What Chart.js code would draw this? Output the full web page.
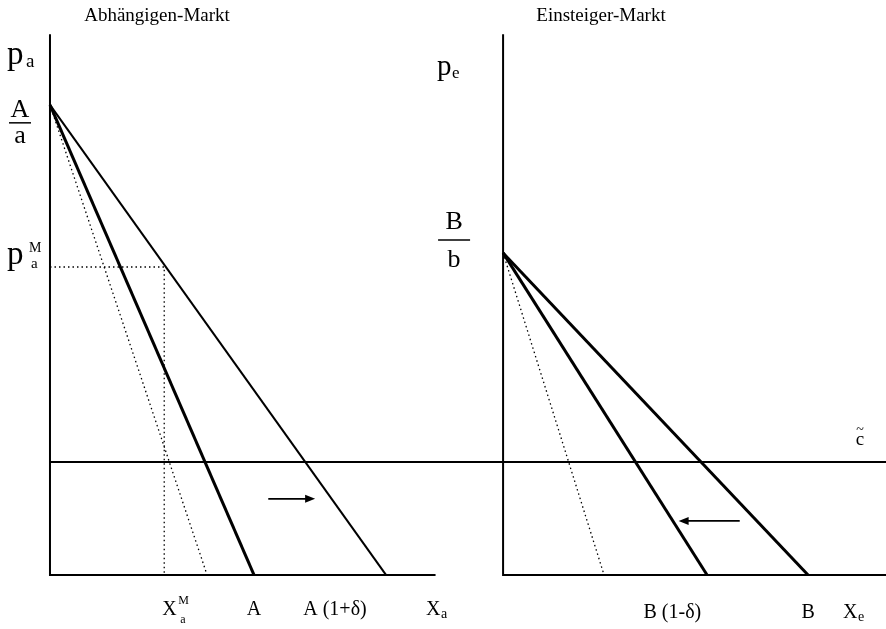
<!DOCTYPE html>
<html lang="de">
<head>
<meta charset="utf-8">
<title>Abhängigen-Markt / Einsteiger-Markt</title>
<script src="https://cdn.jsdelivr.net/npm/chart.js@4.4.1/dist/chart.umd.min.js"></script>
<style>
  html, body { margin: 0; padding: 0; background: #fff; }
</style>
</head>
<body>
<canvas id="diagramm" width="886" height="629"></canvas>
<script>
// Abhängigen-Markt (Mengen in Einheiten von A, Preise in Einheiten von A/a)
const prohibitivA = 1.0;               // A/a auf der Preisachse
const mengenA = [1.0, 1.647, 0.77];    // A, A (1+δ), Grenzerlös
const monopolA = [0.56, 0.655];        // X_a^M, p_a^M

// Einsteiger-Markt
const prohibitivB = 0.685;             // B/b
const mengenB = [1.0, 1.495, 0.495];   // B (1-δ), B, Grenzerlös

// Grenzkosten c~ (für beide Märkte)
const kostenC = 0.24;

// Verschiebungspfeile: von, bis, Höhe
const pfeilA = [1.07, 1.28, 0.162];
const pfeilB = [1.16, 0.88, 0.115];

// Achsenlängen
const achseXA = 1.89;
const achseXB = 1.88;
const achseY = 1.15;

// Versatz des rechten Diagramms auf der gemeinsamen Mengenachse
const versatzB = 2.221;

const schrift = '"Liberation Serif", "DejaVu Serif", serif';

function linie(punkte, breite, punktiert) {
    return {
        data: punkte.map(p => ({ x: p[0], y: p[1] })),
        showLine: true,
        borderColor: '#000',
        borderWidth: breite,
        borderDash: punktiert ? [1.5, 3] : [],
        pointRadius: 0,
        fill: false,
        tension: 0
    };
}

const datensaetze = [
    // Achsen links
    linie([[0, achseY], [0, 0], [achseXA, 0]], 2, false),
    // Achsen rechts
    linie([[versatzB, achseY], [versatzB, 0], [versatzB + achseXB, 0]], 2, false),
    // Nachfrage A und A (1+δ)
    linie([[0, prohibitivA], [mengenA[0], 0]], 3, false),
    linie([[0, prohibitivA], [mengenA[1], 0]], 2, false),
    linie([[0, prohibitivA], [mengenA[2], 0]], 1.3, true),
    // Monopolpunkt
    linie([[0, monopolA[1]], [monopolA[0], monopolA[1]], [monopolA[0], 0]], 1.3, true),
    // Nachfrage B (1-δ) und B
    linie([[versatzB, prohibitivB], [versatzB + mengenB[0], 0]], 3, false),
    linie([[versatzB, prohibitivB], [versatzB + mengenB[1], 0]], 3, false),
    linie([[versatzB, prohibitivB], [versatzB + mengenB[2], 0]], 1.3, true),
    // Kostenlinie
    linie([[0, kostenC], [4.2, kostenC]], 2, false),
    // Pfeile
    linie([[pfeilA[0], pfeilA[2]], [pfeilA[1], pfeilA[2]]], 1.8, false),
    linie([[versatzB + pfeilB[0], pfeilB[2]], [versatzB + pfeilB[1], pfeilB[2]]], 1.8, false)
];

const beschriftung = {
    id: 'beschriftung',
    afterDatasetsDraw(chart) {
        const ctx = chart.ctx;
        const sx = v => chart.scales.x.getPixelForValue(v);
        const sy = v => chart.scales.y.getPixelForValue(v);

        function txt(s, x, y, groesse, ausr) {
            ctx.font = groesse + 'px ' + schrift;
            ctx.textAlign = ausr || 'left';
            ctx.textBaseline = 'alphabetic';
            ctx.fillText(s, x, y);
        }
        function strich(x1, x2, y) {
            ctx.beginPath();
            ctx.lineWidth = 1.5;
            ctx.moveTo(x1, y);
            ctx.lineTo(x2, y);
            ctx.stroke();
        }
        function spitze(x, y, richtung) {
            ctx.beginPath();
            ctx.moveTo(x + richtung * 4, y);
            ctx.lineTo(x - richtung * 6, y - 4);
            ctx.lineTo(x - richtung * 6, y + 4);
            ctx.closePath();
            ctx.fill();
        }

        ctx.save();
        ctx.fillStyle = '#000';
        ctx.strokeStyle = '#000';

        // Titel
        txt('Abhängigen-Markt', 157, 21, 19, 'center');
        txt('Einsteiger-Markt', 601, 21, 19, 'center');

        // Linkes Diagramm, Preisachse
        const x0 = sx(0);
        txt('p', x0 - 43, 64, 33);
        txt('a', x0 - 24, 67, 19);
        const yA = sy(prohibitivA);
        txt('A', x0 - 30, yA + 12, 26, 'center');
        strich(x0 - 41, x0 - 19, yA + 18);
        txt('a', x0 - 30, yA + 38, 26, 'center');
        const yM = sy(monopolA[1]);
        txt('p', x0 - 43, yM - 3, 33);
        txt('M', x0 - 21, yM - 15, 14);
        txt('a', x0 - 19, yM + 1, 15);

        // Linkes Diagramm, Mengenachse
        const yU = sy(0) + 40;
        const xM = sx(monopolA[0]);
        txt('X', xM - 2, yU, 20);
        txt('M', xM + 14, yU - 11, 12);
        txt('a', xM + 16, yU + 8, 12);
        txt('A', sx(mengenA[0]), yU, 20, 'center');
        txt('A (1+δ)', sx(1.397), yU, 20, 'center');
        txt('X', sx(1.843), yU, 20);
        txt('a', sx(1.843) + 15, yU + 3, 14);

        // Rechtes Diagramm, Preisachse
        const xB = sx(versatzB);
        txt('p', xB - 66, 75, 29);
        txt('e', xB - 51, 78, 17);
        const yB = sy(prohibitivB);
        txt('B', xB - 49, yB - 24, 26, 'center');
        strich(xB - 65, xB - 33, yB - 13);
        txt('b', xB - 49, yB + 14, 26, 'center');

        // Rechtes Diagramm, Mengenachse
        const yU2 = sy(0) + 43;
        txt('B (1-δ)', sx(versatzB + 0.83), yU2, 20, 'center');
        txt('B', sx(versatzB + mengenB[1]), yU2, 20, 'center');
        txt('X', xB + 340, yU2, 20);
        txt('e', xB + 355, yU2 + 3, 14);

        // Kosten c~
        const yC = sy(kostenC);
        txt('~', 860, yC - 28, 14, 'center');
        txt('c', 860, yC - 17, 19, 'center');

        // Pfeilspitzen
        spitze(sx(pfeilA[1]), sy(pfeilA[2]), 1);
        spitze(sx(versatzB + pfeilB[1]), sy(pfeilB[2]), -1);

        ctx.restore();
    }
};

new Chart(document.getElementById('diagramm').getContext('2d'), {
    type: 'scatter',
    data: { datasets: datensaetze },
    options: {
        responsive: false,
        animation: false,
        layout: { padding: 0 },
        plugins: {
            legend: { display: false },
            tooltip: { enabled: false }
        },
        scales: {
            x: { type: 'linear', min: -0.245, max: 4.098, display: false },
            y: { type: 'linear', min: -0.115, max: 1.223, display: false }
        }
    },
    plugins: [beschriftung]
});
</script>
</body>
</html>
